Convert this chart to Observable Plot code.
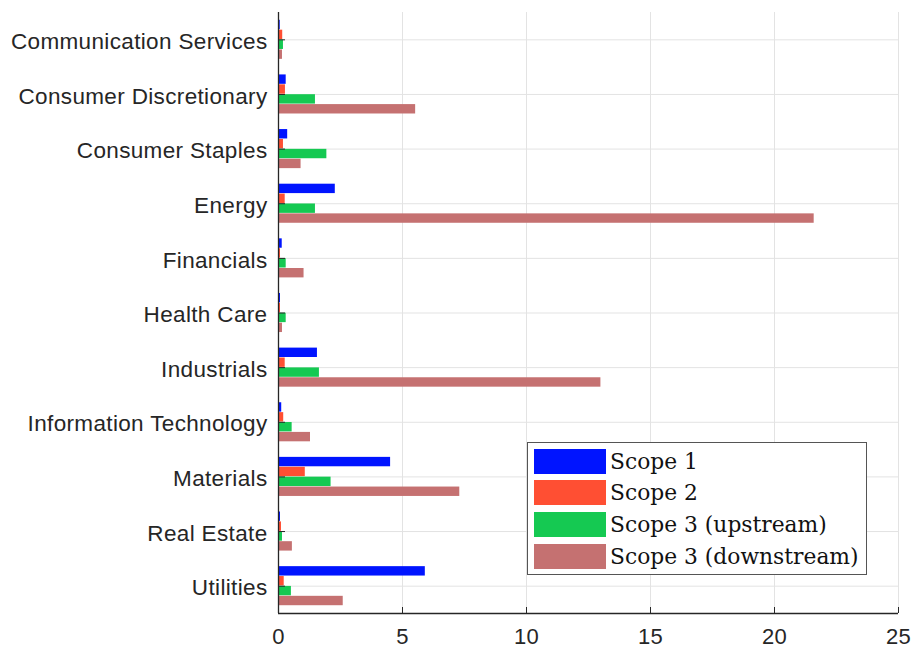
<!DOCTYPE html>
<html>
<head>
<meta charset="utf-8">
<script src="https://cdn.jsdelivr.net/npm/d3@7"></script>
<script src="https://cdn.jsdelivr.net/npm/@observablehq/plot@0.6"></script>
<style>
  html, body { margin: 0; padding: 0; background: #fff; }
  #wrap { position: relative; width: 915px; height: 654px; }
  #wrap svg text { letter-spacing: 0.35px; }
  #legend {
    position: absolute; left: 527px; top: 442px; width: 340px; height: 133px;
    border: 1px solid #555; background: #fff; box-sizing: border-box;
    font-family: "DejaVu Serif", "Liberation Serif", serif; font-size: 21.8px; color: #111;
  }
  .row { position: absolute; left: 6px; height: 26px; display: flex; align-items: center; }
  .sw { width: 72px; height: 25px; margin-right: 4px; }
</style>
</head>
<body>
<div id="wrap"><div id="legend"></div></div>
<script>
const sectors = ["Communication Services", "Consumer Discretionary", "Consumer Staples", "Energy",
  "Financials", "Health Care", "Industrials", "Information Technology", "Materials", "Real Estate", "Utilities"];
const scope1 = [0.07, 0.31, 0.37, 2.29, 0.15, 0.08, 1.57, 0.13, 4.52, 0.08, 5.92];
const scope2 = [0.17, 0.28, 0.20, 0.27, 0.08, 0.08, 0.27, 0.21, 1.08, 0.12, 0.23];
const scope3up = [0.20, 1.49, 1.95, 1.49, 0.31, 0.31, 1.65, 0.55, 2.12, 0.16, 0.52];
const scope3down = [0.16, 5.53, 0.91, 21.6, 1.03, 0.16, 13.0, 1.29, 7.31, 0.56, 2.61];
const seriesNames = ["Scope 1", "Scope 2", "Scope 3 (upstream)", "Scope 3 (downstream)"];
const seriesColors = ["#0014ff", "#ff4f33", "#15c952", "#c57171"];
const xTicks = [0, 5, 10, 15, 20, 25];

const seriesValues = [scope1, scope2, scope3up, scope3down];
const pitch = 0.181, thick = 0.172;
const rows = [];
sectors.forEach((s, i) => {
  seriesValues.forEach((vals, k) => {
    const y1 = (i + 1) - 2 * pitch + k * pitch + (pitch - thick) / 2;
    rows.push({sector: s, series: seriesNames[k], value: vals[i], y1, y2: y1 + thick});
  });
});

const font = "Liberation Sans, Arial, Helvetica, sans-serif";
const chart = Plot.plot({
  width: 915, height: 654,
  marginLeft: 278, marginRight: 17, marginTop: 12, marginBottom: 41,
  style: {fontFamily: font, fontSize: "22.5px", color: "#262626", background: "transparent"},
  x: {domain: [0, 25], ticks: xTicks, label: null},
  y: {domain: [11.5, 0.5], ticks: d3.range(1, 12), label: null},
  color: {domain: seriesNames, range: seriesColors},
  marks: [
    Plot.gridX(xTicks, {stroke: "#e3e3e3", strokeOpacity: 1}),
    Plot.gridY(d3.range(1, 12), {stroke: "#e3e3e3", strokeOpacity: 1}),
    Plot.rectX(rows, {x1: 0, x2: "value", y1: "y1", y2: "y2", fill: "series"}),
    Plot.ruleX([0], {stroke: "#262626", strokeWidth: 1.3}),
    Plot.ruleY([11.5], {stroke: "#262626", strokeWidth: 1.3}),
    Plot.axisX(xTicks, {tickSize: 0, tickPadding: 15, label: null, fontSize: 22}),
    Plot.axisX(xTicks, {tickSize: 6, dy: -6, text: null, label: null, stroke: "#262626"}),
    Plot.axisY(d3.range(1, 12), {tickSize: 0, tickPadding: 11, dy: 2, label: null,
      tickFormat: i => sectors[i - 1], fontSize: 22.5}),
    Plot.axisY(d3.range(1, 12), {tickSize: 7, dx: 7, text: null, label: null, stroke: "#262626"})
  ]
});
const wrap = document.getElementById("wrap");
wrap.insertBefore(chart, wrap.firstChild);

const legend = document.getElementById("legend");
seriesNames.forEach((n, k) => {
  const r = document.createElement("div");
  r.className = "row";
  r.style.top = (5 + k * 31.8) + "px";
  const sw = document.createElement("div");
  sw.className = "sw";
  sw.style.background = seriesColors[k];
  const t = document.createElement("span");
  t.textContent = n;
  r.appendChild(sw); r.appendChild(t);
  legend.appendChild(r);
});
</script>
</body>
</html>
